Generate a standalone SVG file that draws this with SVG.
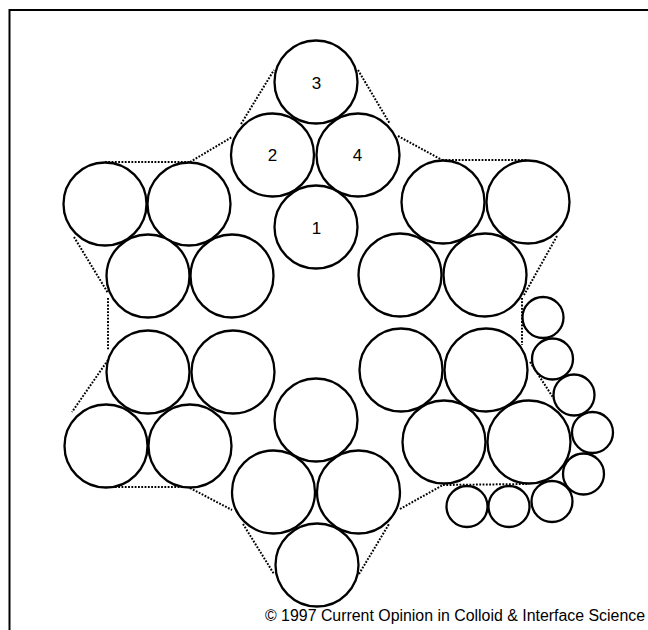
<svg xmlns="http://www.w3.org/2000/svg" width="648" height="630" viewBox="0 0 648 630">
<style>
.c{fill:#fff;stroke:#000;stroke-width:2.3}
.d{fill:none;stroke:#000;stroke-width:2;stroke-dasharray:1.8 1.5}
.f{fill:none;stroke:#000;stroke-width:2}
.t{font-family:"Liberation Sans",Arial,sans-serif;font-size:17px;fill:#000;text-anchor:middle}
.cr{font-family:"Liberation Sans",Arial,sans-serif;font-size:16px;fill:#000;text-anchor:end}
</style>
<rect width="648" height="630" fill="#fff"/>
<g id="frame"><path class="f" d="M9.5,630 V10 H648"/></g>
<g id="connectors">
<line class="d" x1="105" y1="162" x2="190" y2="162"/>
<line class="d" x1="190" y1="162" x2="232" y2="137"/>
<line class="d" x1="241" y1="124" x2="274" y2="70"/>
<line class="d" x1="358" y1="70" x2="390" y2="124"/>
<line class="d" x1="398" y1="136" x2="442" y2="160"/>
<line class="d" x1="442" y1="160" x2="527" y2="160"/>
<line class="d" x1="74" y1="237" x2="108" y2="293"/>
<line class="d" x1="108" y1="298" x2="108" y2="350"/>
<line class="d" x1="108" y1="360" x2="72" y2="412"/>
<line class="d" x1="557" y1="236" x2="524" y2="295"/>
<line class="d" x1="522" y1="298" x2="522" y2="345"/>
<line class="d" x1="530" y1="362" x2="556" y2="402"/>
<line class="d" x1="105" y1="487" x2="190" y2="487"/>
<line class="d" x1="190" y1="488" x2="232" y2="510"/>
<line class="d" x1="243" y1="524" x2="274" y2="574"/>
<line class="d" x1="359" y1="574" x2="389" y2="524"/>
<line class="d" x1="400" y1="509" x2="443" y2="485"/>
<line class="d" x1="443" y1="485" x2="527" y2="484"/>
</g>
<g id="n3"><circle class="c" cx="316" cy="82" r="41.5"/><text class="t" x="316.5" y="89">3</text></g>
<g id="n2"><circle class="c" cx="272.5" cy="155" r="41.5"/><text class="t" x="272.5" y="161">2</text></g>
<g id="n4"><circle class="c" cx="358" cy="155" r="41.5"/><text class="t" x="357.5" y="161">4</text></g>
<g id="n1"><circle class="c" cx="316" cy="227" r="41.5"/><text class="t" x="316.5" y="234">1</text></g>
<g id="ul1"><circle class="c" cx="105" cy="204" r="41.5"/></g>
<g id="ul2"><circle class="c" cx="189" cy="204" r="41.5"/></g>
<g id="ul3"><circle class="c" cx="148" cy="276" r="41.5"/></g>
<g id="ul4"><circle class="c" cx="232" cy="276" r="41.5"/></g>
<g id="ur1"><circle class="c" cx="443" cy="202" r="41.5"/></g>
<g id="ur2"><circle class="c" cx="528" cy="202" r="41.5"/></g>
<g id="ur3"><circle class="c" cx="400" cy="275" r="41.5"/></g>
<g id="ur4"><circle class="c" cx="485" cy="275" r="41.5"/></g>
<g id="ll1"><circle class="c" cx="148" cy="372" r="41.5"/></g>
<g id="ll2"><circle class="c" cx="233" cy="372" r="41.5"/></g>
<g id="ll3"><circle class="c" cx="106" cy="446" r="41.5"/></g>
<g id="ll4"><circle class="c" cx="190" cy="446" r="41.5"/></g>
<g id="lr1"><circle class="c" cx="401" cy="370" r="41.5"/></g>
<g id="lr2"><circle class="c" cx="486" cy="370" r="41.5"/></g>
<g id="lr3"><circle class="c" cx="444" cy="442" r="41.5"/></g>
<g id="lr4"><circle class="c" cx="529" cy="442" r="41.5"/></g>
<g id="b1"><circle class="c" cx="316" cy="420" r="41.5"/></g>
<g id="b2"><circle class="c" cx="273.5" cy="492" r="41.5"/></g>
<g id="b3"><circle class="c" cx="358.5" cy="492" r="41.5"/></g>
<g id="b4"><circle class="c" cx="317" cy="565" r="41.5"/></g>
<g id="s1"><circle class="c" cx="543" cy="317.5" r="20.5"/></g>
<g id="s2"><circle class="c" cx="552.5" cy="359" r="20.5"/></g>
<g id="s3"><circle class="c" cx="574" cy="395" r="20.5"/></g>
<g id="s4"><circle class="c" cx="592.5" cy="432.5" r="20.5"/></g>
<g id="s5"><circle class="c" cx="583.5" cy="474" r="20.5"/></g>
<g id="s6"><circle class="c" cx="552" cy="501.5" r="20.5"/></g>
<g id="s7"><circle class="c" cx="509" cy="506.5" r="20.5"/></g>
<g id="s8"><circle class="c" cx="467" cy="506.5" r="20.5"/></g>
<text class="cr" x="645" y="621" textLength="380" lengthAdjust="spacingAndGlyphs">© 1997 Current Opinion in Colloid &amp; Interface Science</text>
</svg>
